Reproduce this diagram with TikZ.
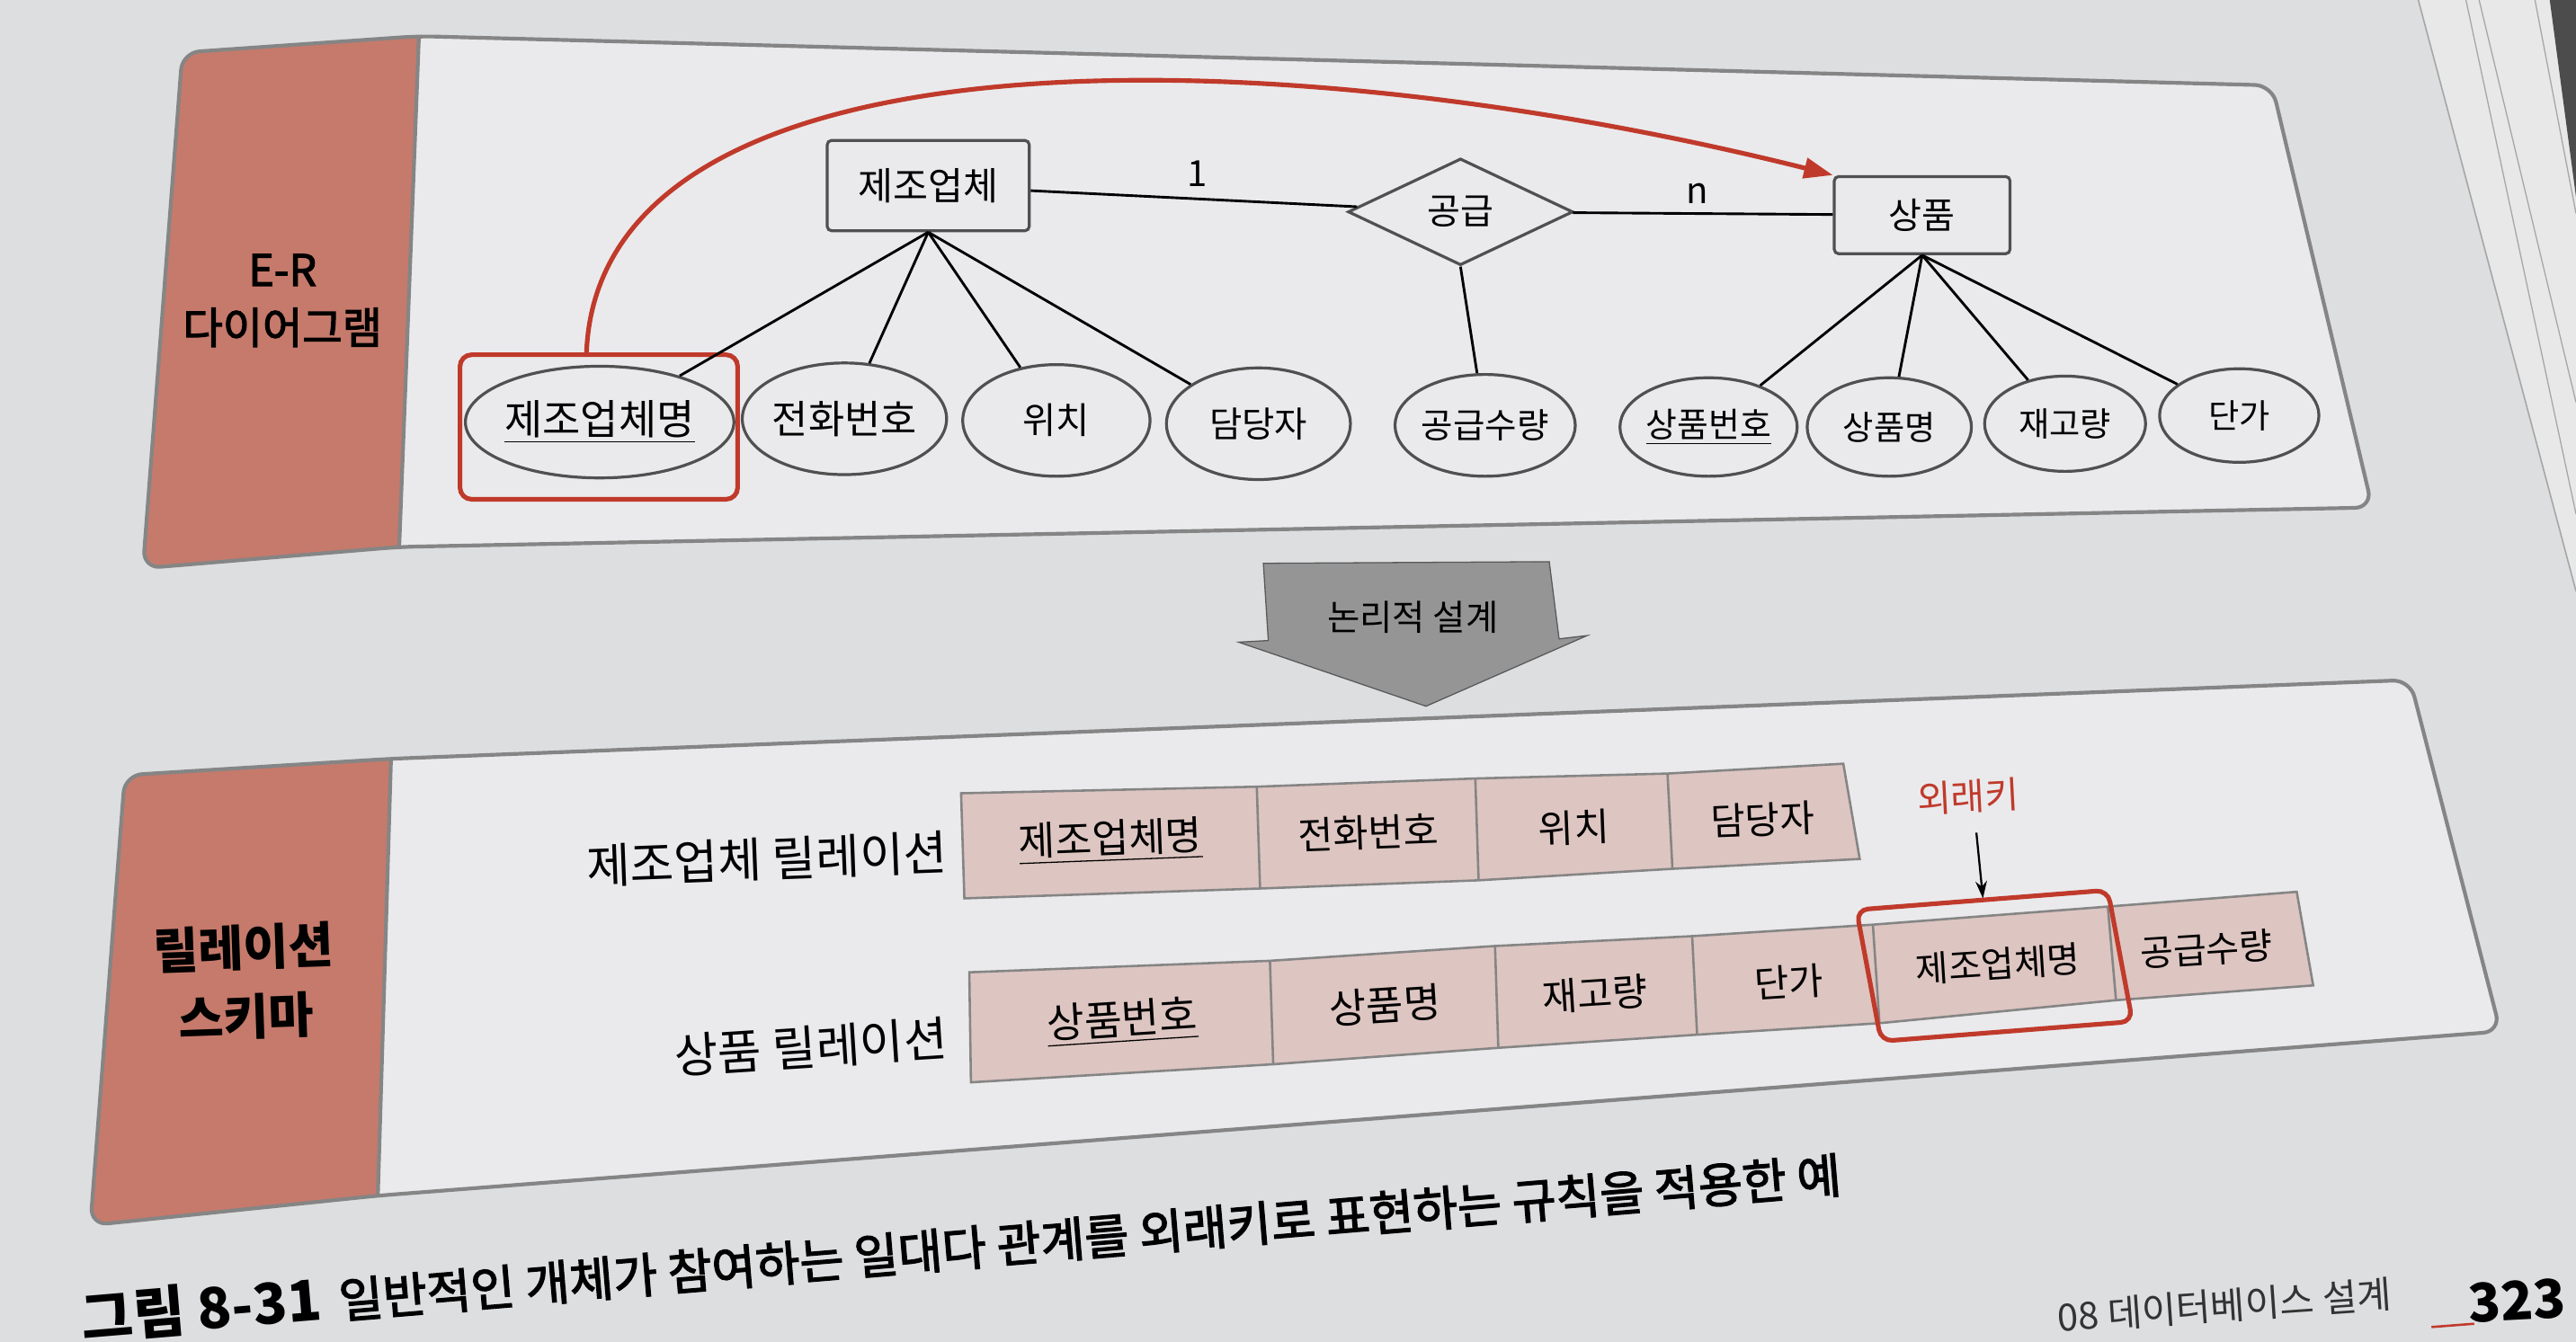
\documentclass[tikz,border=0pt]{standalone}
\usepackage{fontspec}
\setmainfont{Noto Sans CJK KR}
\newfontfamily\krmed[FakeBold=2.5]{Noto Sans CJK KR}
\usetikzlibrary{shapes.geometric,arrows.meta}
\definecolor{page}{HTML}{DDDEE0}
\definecolor{pageedge}{HTML}{E8E8E8}
\definecolor{panel}{HTML}{EAEAEC}
\definecolor{salmon}{HTML}{C67A6B}
\definecolor{cellfill}{HTML}{DDC5C1}
\definecolor{redline}{HTML}{C03A2B}
\definecolor{bordergray}{HTML}{858585}
\definecolor{edgegray}{HTML}{505050}
\definecolor{arrowgray}{HTML}{959595}
\newcommand{\fs}[1]{\fontsize{#1}{#1}\selectfont}
\tikzset{
 ent/.style={draw=edgegray, line width=1pt, fill=panel, rounded corners=1.5pt, inner sep=0pt},
 attr/.style={ellipse, draw=edgegray, line width=1pt, fill=panel, inner sep=0pt},
 relsh/.style={diamond, draw=edgegray, line width=1pt, fill=panel, inner sep=0pt},
 conn/.style={draw=black, line width=0.9pt},
 cell/.style={fill=cellfill, draw=bordergray, line width=0.8pt},
 celldiv/.style={draw=bordergray, line width=0.8pt},
 ctxt/.style={inner sep=0pt},
 pborder/.style={draw=bordergray, line width=1.3pt},
 fkbox/.style={draw=redline, line width=1.6pt, rounded corners=4pt},
}
\begin{document}
\begin{tikzpicture}[x=0.02cm,y=-0.02cm]
\useasboundingbox (0,0) rectangle (1568,817);
\clip (0,0) rectangle (1568,817);
\fill[page] (0,0) rectangle (1568,817);
% page edges at right
\fill[pageedge] (1472,0) -- (1568,0) -- (1568,360) -- cycle;
\draw[gray!70, line width=0.5pt] (1472,0) -- (1568,360);
\draw[gray!70, line width=0.4pt] (1501,0) -- (1568,313);
\draw[gray!70, line width=0.4pt] (1509,0) -- (1568,245);
\draw[gray!70, line width=0.4pt] (1543,0) -- (1568,130);
\fill[gray!60!black] (1552,0) -- (1568,0) -- (1568,120) -- cycle;

% ===== top panel =====
\def\toppanel{(111,32) -- (255,22) -- (1383,52) -- (1444,309) -- (243,333) -- (87,346) -- cycle}
\fill[panel, rounded corners=6pt] \toppanel;
\begin{scope}
 \clip[rounded corners=6pt] \toppanel;
 \fill[salmon] (0,0) -- (255,22) -- (243,333) -- (0,400) -- cycle;
\end{scope}
\draw[pborder] (255,22) -- (243,333);
\draw[pborder, rounded corners=6pt] \toppanel;
\node[font=\krmed\fontsize{15}{20}\selectfont, align=center, inner sep=0pt] (erl) at (172,183) {E-R\\다이어그램};

% entities / relationship
\node[ent, minimum width=2.46cm, minimum height=1.1cm, font=\fs{13.2}] (e1) at (565,113) {제조업체};
\node[relsh, minimum width=2.74cm, minimum height=1.3cm, font=\fs{12.5}] (r) at (889,129) {공급};
\node[ent, minimum width=2.14cm, minimum height=0.94cm, font=\fs{12.5}] (e2) at (1170,131) {상품};
% attributes
\node[attr, minimum width=3.02cm, minimum height=1.36cm, font=\fs{14.3}] (a1) at (365,257) {\underline{제조업체명}};
\node[attr, minimum width=2.44cm, minimum height=1.36cm, font=\fs{13.6}] (a2) at (514,255) {전화번호};
\node[attr, minimum width=2.28cm, minimum height=1.36cm, font=\fs{12.6}] (a3) at (643,256) {위치};
\node[attr, minimum width=2.24cm, minimum height=1.36cm, font=\fs{12.3}] (a4) at (766,258) {담당자};
\node[attr, minimum width=2.12cm, minimum height=1.24cm, font=\fs{12}] (a5) at (904,259) {공급수량};
\node[attr, minimum width=2.02cm, minimum height=1.2cm, font=\fs{11.8}] (a6) at (1040,260) {\underline{상품번호}};
\node[attr, minimum width=2.0cm, minimum height=1.2cm, font=\fs{11.6}] (a7) at (1150,260) {상품명};
\node[attr, minimum width=1.96cm, minimum height=1.16cm, font=\fs{11.6}] (a8) at (1257,258) {재고량};
\node[attr, minimum width=1.94cm, minimum height=1.14cm, font=\fs{11.6}] (a9) at (1363,253) {단가};
\node[fkbox, minimum width=3.38cm, minimum height=1.76cm] (fk1) at (364.5,260) {};
% cardinalities
\node[font=\fs{12.5}, inner sep=0pt] (l1) at (729,106) {1};
\node[font=\fs{12.5}, inner sep=0pt] (ln) at (1033,118) {n};
% connectors
\draw[conn] (e1) -- (r);
\draw[conn] (r) -- (e2);
\draw[conn] (r.south) -- (a5);
\foreach \a in {a1,a2,a3,a4} \draw[conn] (e1.south) -- (\a);
\foreach \a in {a6,a7,a8,a9} \draw[conn] (e2.south) -- (\a);
% foreign key arrow
\coordinate (rs) at ([xshift=-0.15cm]fk1.north);
\draw[redline, line width=1.6pt, -{Triangle[length=10pt,width=7pt]}] (rs) .. controls (365,15) and (770,20) .. (e2.north west);

% ===== logical design arrow =====
\fill[arrowgray] (769,343) -- (943,342) -- (949,389) -- (966,387) -- (868,430) -- (754,391) -- (772,390) -- cycle;
\draw[gray!70!black, line width=0.4pt] (769,343) -- (943,342) -- (949,389) -- (966,387) -- (868,430) -- (754,391) -- (772,390) -- cycle;
\node[font=\fs{12.3}, inner sep=0pt] (ld) at (860,376) {논리적 설계};

% ===== bottom panel =====
\def\botpanel{(76,472) -- (238,462) -- (1467,414) -- (1522,628) -- (230,728) -- (55,746) -- cycle}
\fill[panel, rounded corners=6pt] \botpanel;
\begin{scope}
 \clip[rounded corners=6pt] \botpanel;
 \fill[salmon] (0,400) -- (238,462) -- (230,728) -- (0,800) -- cycle;
\end{scope}
\draw[pborder] (238,462) -- (230,728);
\draw[pborder, rounded corners=6pt] \botpanel;
\node[font=\bfseries\fontsize{17}{24}\selectfont, align=center, inner sep=0pt, rotate=2] (rsl) at (149,598) {릴레이션\\스키마};

% relation labels
\node[font=\fs{16.5}, anchor=east, inner sep=0pt, rotate=2.2] (rl1) at (577,519) {제조업체 릴레이션};
\node[font=\fs{16.5}, anchor=east, inner sep=0pt, rotate=3.7] (rl2) at (577,632) {상품 릴레이션};

% top relation row
\filldraw[cell] (585,483) -- (765,479) -- (898,474) -- (1015,471) -- (1122,465) -- (1132,523) -- (1018,529) -- (900,536) -- (767,541) -- (587,547) -- cycle;
\draw[celldiv] (765,479) -- (767,541) (898,474) -- (900,536) (1015,471) -- (1018,529);
\node[ctxt, font=\fs{13.8}, rotate=2.2] (t1) at (676,512) {\underline{제조업체명}};
\node[ctxt, font=\fs{13.2}, rotate=2.2] (t2) at (833,507) {전화번호};
\node[ctxt, font=\fs{13.3}, rotate=2.2] (t3) at (958,504) {위치};
\node[ctxt, font=\fs{13}, rotate=2.2] (t4) at (1073,499) {담당자};

% bottom relation row
\filldraw[cell] (590,592) -- (773,585) -- (910,576) -- (1030,570) -- (1140,563) -- (1283,552) -- (1398,543) -- (1408,600) -- (1288,609) -- (1144,623) -- (1033,630) -- (912,638) -- (775,648) -- (591,659) -- cycle;
\draw[celldiv] (773,585) -- (775,648) (910,576) -- (912,638) (1030,570) -- (1033,630) (1140,563) -- (1144,623) (1283,552) -- (1288,609);
\node[ctxt, font=\fs{14.2}, rotate=3.7] (b1) at (683,622) {\underline{상품번호}};
\node[ctxt, font=\fs{14}, rotate=3.7] (b2) at (843,612) {상품명};
\node[ctxt, font=\fs{13.2}, rotate=3.7] (b3) at (971,605) {재고량};
\node[ctxt, font=\fs{13}, rotate=3.7] (b4) at (1089,598) {단가};
\node[ctxt, font=\fs{12.4}, rotate=3.7] (b5) at (1216,587) {제조업체명};
\node[ctxt, font=\fs{12.5}, rotate=3.7] (b6) at (1343,578) {공급수량};

% foreign key highlight
\draw[fkbox] (1130,554) -- (1283,542) -- (1298,622) -- (1145,634) -- cycle;
\node[ctxt, font=\fs{12.8}, text=redline, rotate=3] (fk) at (1198,485) {외래키};
\coordinate (fks) at (1203,507);
\coordinate (fkt) at (1207,547);
\draw[black, line width=0.7pt, -{Stealth[length=6pt,width=4pt]}] (fks) -- (fkt);

% ===== caption and footer =====
\node[ctxt, rotate=4.8] (cap) at (585,758) {{\bfseries\fs{19.5}그림 8-31}\hspace{0.6em}{\krmed\fs{16.6}일반적인 개체가 참여하는 일대다 관계를 외래키로 표현하는 규칙을 적용한 예}};
\node[ctxt, rotate=4, font=\fs{13}, text=black!80] (ft) at (1354,795) {08 데이터베이스 설계};
\node[ctxt, rotate=3, font=\bfseries\fs{18.5}] (pg) at (1532,792) {323};
\coordinate (ul1) at (1480,808);
\coordinate (ul2) at (1506,806);
\draw[redline, line width=0.8pt] (ul1) -- (ul2);
\end{tikzpicture}
\end{document}
